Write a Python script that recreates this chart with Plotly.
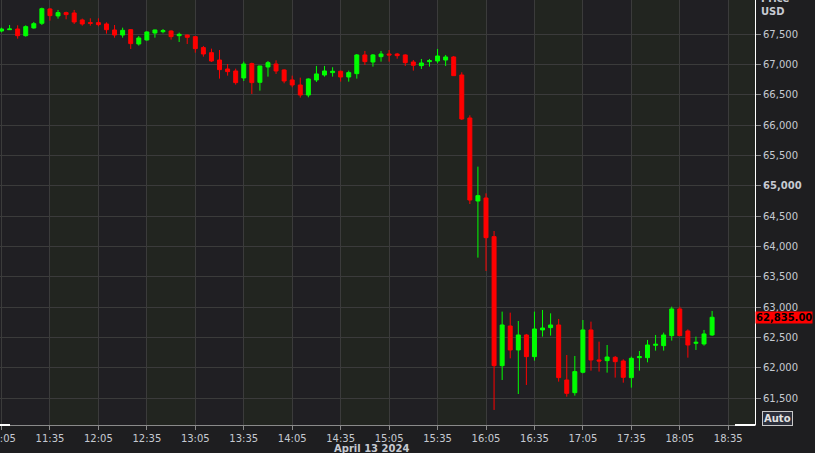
import pandas as pd
import plotly.graph_objects as go

start_time = "2024-04-13 11:05"
times = pd.date_range(start_time, periods=89, freq="5min")

opens = [67554, 67576, 67587, 67477, 67604, 67681, 67917, 67802, 67857, 67851,
         67736, 67692, 67692, 67670, 67571, 67488, 67576, 67340, 67406, 67521,
         67543, 67554, 67477, 67488, 67461, 67280, 67197, 67076, 66928, 66895,
         66780, 67016, 66708, 66961, 67010, 66912, 66747, 66664, 66499, 66747,
         66829, 66868, 66890, 66796, 66851, 67159, 67043, 67131, 67175, 67175,
         67159, 67043, 66983, 67049, 67060, 67076, 67126, 66829, 66120, 64752,
         64801, 64164, 62037, 62691, 62296, 62543, 62186, 62626, 62664, 62708,
         61801, 61592, 61928, 62626, 62131, 62120, 62175, 62114, 61840, 62169,
         62169, 62373, 62367, 62532, 62972, 62609, 62406, 62395, 62543]
highs = [67609, 67653, 67648, 67648, 67703, 67939, 67933, 67901, 67873, 67901,
         67758, 67763, 67763, 67697, 67653, 67609, 67587, 67472, 67549, 67576,
         67587, 67565, 67527, 67494, 67472, 67307, 67263, 67241, 67010, 66933,
         67049, 67032, 66980, 67060, 67071, 66923, 66818, 66785, 66774, 66978,
         66978, 66956, 66901, 66901, 67175, 67225, 67175, 67225, 67241, 67192,
         67170, 67076, 67093, 67093, 67258, 67159, 67142, 66873, 66164, 65318,
         64878, 64257, 62928, 62911, 62774, 62560, 62928, 62955, 62900, 62807,
         62213, 62197, 62790, 62763, 62433, 62378, 62197, 62142, 62186, 62279,
         62461, 62543, 62582, 63010, 63010, 62636, 62516, 62626, 62939]
lows = [67532, 67574, 67428, 67461, 67593, 67653, 67725, 67758, 67747, 67670,
        67642, 67642, 67631, 67510, 67444, 67444, 67258, 67313, 67395, 67444,
        67516, 67412, 67373, 67340, 67197, 67131, 67043, 66769, 66818, 66670,
        66730, 66516, 66571, 66802, 66846, 66692, 66626, 66456, 66461, 66714,
        66802, 66802, 66719, 66719, 66769, 66994, 66967, 67049, 67049, 67098,
        66978, 66901, 66928, 66967, 67021, 66978, 66813, 66087, 64702, 63818,
        63598, 61307, 61801, 62158, 61570, 61719, 62120, 62516, 62532, 61774,
        61526, 61543, 61911, 61955, 61939, 61922, 61840, 61757, 61675, 61955,
        62092, 62285, 62285, 62450, 62525, 62169, 62296, 62367, 62527]
closes = [67587, 67587, 67477, 67626, 67675, 67922, 67807, 67857, 67824, 67703,
          67670, 67681, 67659, 67576, 67488, 67565, 67346, 67439, 67538, 67571,
          67560, 67461, 67499, 67450, 67263, 67175, 67060, 66917, 66884, 66703,
          67010, 66703, 66977, 67032, 66895, 66730, 66664, 66499, 66763, 66846,
          66895, 66890, 66796, 66868, 67159, 67049, 67159, 67175, 67159, 67148,
          67032, 66989, 67027, 67065, 67142, 67126, 66818, 66104, 64768, 64840,
          64147, 62037, 62708, 62296, 62543, 62186, 62642, 62658, 62708, 61840,
          61581, 61939, 62626, 62131, 62114, 62180, 62103, 61845, 62158, 62186,
          62378, 62389, 62543, 62972, 62532, 62378, 62422, 62560, 62835]

price_ticks = [61500, 62000, 62500, 63000, 63500, 64000, 64500, 65000,
               65500, 66000, 66500, 67000, 67500]
bold_tick = 65000
last_price_label = "62,835.00"
date_label = "April 13 2024"
x_range = ["2024-04-13 11:04:04", "2024-04-13 18:51:34"]
y_range = [61059, 68065]
time_ticks = pd.date_range("2024-04-13 11:05", "2024-04-13 19:05", freq="30min")

GREEN = "#00ff00"
RED = "#ff0000"
TXT = "#c6cad2"
FONT = "DejaVu Sans"
BAND = "#222520"

tick_text = [("<b>%s</b>" % f"{v:,}") if v == bold_tick else f"{v:,}" for v in price_ticks]

# alternating background bands between time gridlines
band_shapes = []
for i in range(1, len(time_ticks) - 1, 2):
    band_shapes.append(dict(type="rect", xref="x", yref="paper",
                            x0=time_ticks[i], x1=time_ticks[i + 1], y0=0, y1=1,
                            fillcolor=BAND, line=dict(width=0), layer="below"))

fig = go.Figure()
fig.add_trace(go.Candlestick(
    x=times, open=opens, high=highs, low=lows, close=closes,
    increasing=dict(line=dict(color=GREEN, width=1), fillcolor=GREEN),
    decreasing=dict(line=dict(color=RED, width=1), fillcolor=RED),
    whiskerwidth=0, showlegend=False, hoverinfo="skip",
))

fig.update_layout(
    width=815, height=453,
    margin=dict(l=0, r=60, t=0, b=28, autoexpand=False),
    paper_bgcolor="#1e1e20",
    plot_bgcolor="#201f23",
    font=dict(family=FONT, size=10, color=TXT),
    showlegend=False,
    xaxis=dict(
        type="date", range=x_range, automargin=False,
        rangeslider=dict(visible=False),
        tickmode="linear", tick0="2024-04-13 11:05", dtick=30 * 60 * 1000,
        tickformat="%H:%M", ticklabeloverflow="allow",
        showgrid=True, gridcolor="#3b3b3b", gridwidth=1,
        ticks="outside", ticklen=4, tickcolor="#8a8a8a",
        showline=True, linecolor="#8a8a8a", linewidth=1,
        tickfont=dict(family=FONT, size=10, color=TXT),
        zeroline=False, fixedrange=True, layer="above traces",
    ),
    yaxis=dict(
        side="right", range=y_range, automargin=False,
        tickmode="array", tickvals=price_ticks, ticktext=tick_text,
        showgrid=True, gridcolor="#3b3b3b", gridwidth=1,
        ticks="outside", ticklen=5, tickcolor="#8a8a8a",
        showline=True, linecolor="#ffffff", linewidth=1,
        tickfont=dict(family=FONT, size=10, color=TXT),
        zeroline=False, fixedrange=True,
    ),
    shapes=band_shapes + [
        dict(type="line", xref="paper", yref="paper", x0=0, x1=10 / 755, y0=0, y1=0,
             line=dict(color="#ffffff", width=2)),
        dict(type="line", xref="paper", yref="paper", x0=735 / 755, x1=1, y0=0, y1=0,
             line=dict(color="#ffffff", width=2)),
    ],
    annotations=[
        dict(xref="paper", yref="y", x=1, y=closes[-1], xanchor="left", yanchor="middle",
             text="<b>%s</b>" % last_price_label, showarrow=False,
             bgcolor=RED, font=dict(family=FONT, size=10, color="#000000"),
             borderpad=0, xshift=0),
        dict(xref="paper", yref="paper", x=1, y=1 - 19 / 425, xanchor="left", yanchor="bottom",
             text="<b>Price<br>USD</b>", showarrow=False, align="left",
             font=dict(family=FONT, size=10, color=TXT), xshift=4),
        dict(xref="paper", yref="paper", x=371 / 755, y=-24 / 425, xanchor="center", yanchor="middle",
             text="<b>%s</b>" % date_label, showarrow=False,
             font=dict(family=FONT, size=10, color=TXT)),
        dict(xref="paper", yref="paper", x=1, y=7 / 425, xanchor="left", yanchor="middle",
             text="<b>Auto</b>", showarrow=False, xshift=7,
             bgcolor="#2c2f3a", bordercolor="#c8c8c8", borderwidth=1, borderpad=1,
             font=dict(family=FONT, size=10, color="#e0e0e0")),
    ],
)

fig.write_html(
    "out.html",
    config={"displayModeBar": False},
    post_script="document.body.style.margin='0';document.body.style.overflow='hidden';"
                "document.documentElement.style.overflow='hidden';",
)
